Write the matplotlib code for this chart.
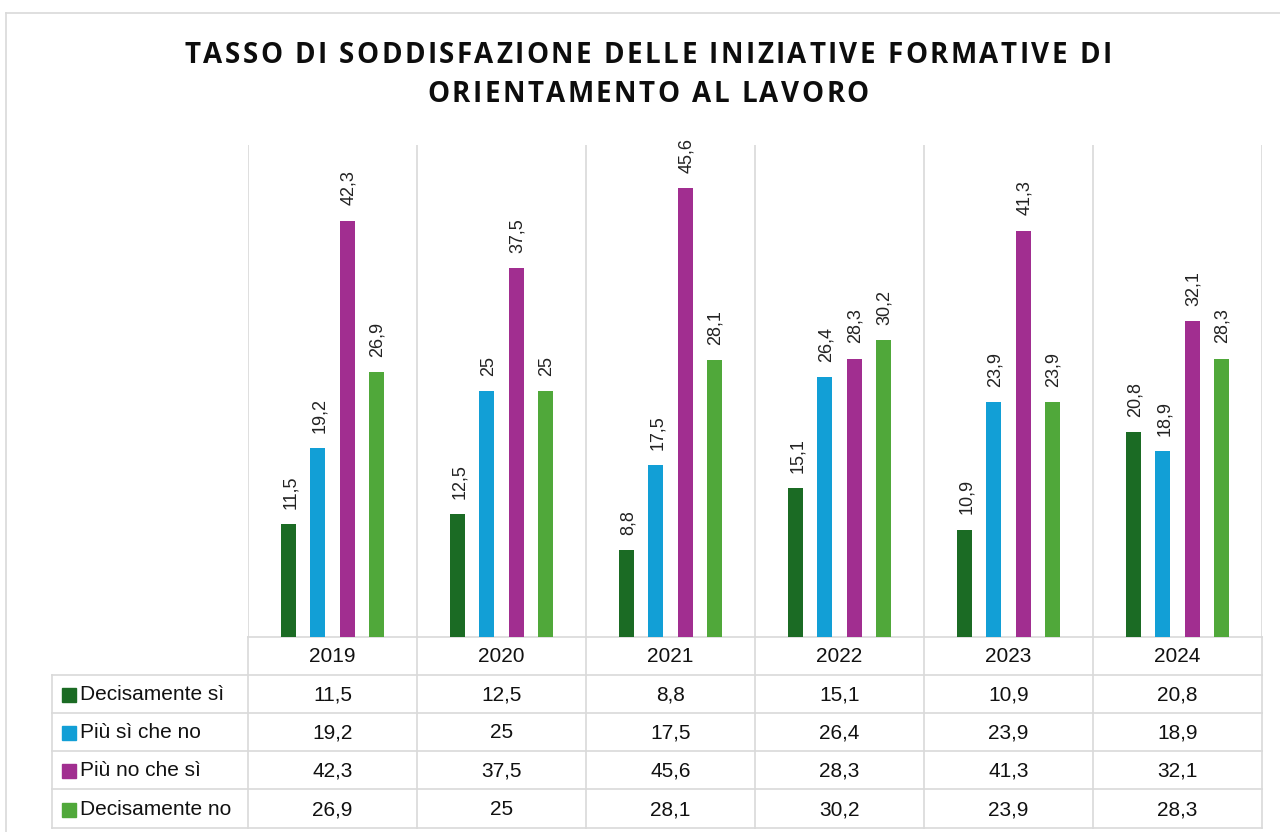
import numpy as np
import matplotlib.pyplot as plt
from matplotlib.patches import Rectangle

years = ['2019', '2020', '2021', '2022', '2023', '2024']
series = ['Decisamente sì', 'Più sì che no', 'Più no che sì', 'Decisamente no']
decisamente_si = [11.5, 12.5, 8.8, 15.1, 10.9, 20.8]
piu_si_che_no = [19.2, 25, 17.5, 26.4, 23.9, 18.9]
piu_no_che_si = [42.3, 37.5, 45.6, 28.3, 41.3, 32.1]
decisamente_no = [26.9, 25, 28.1, 30.2, 23.9, 28.3]
values = [decisamente_si, piu_si_che_no, piu_no_che_si, decisamente_no]
colors = ['#1b6b24', '#129fd6', '#a12e90', '#50a83a']
title_lines = ['TASSO DI SODDISFAZIONE DELLE INIZIATIVE FORMATIVE DI',
               'ORIENTAMENTO AL LAVORO']

plt.rcParams['font.family'] = ['Liberation Sans', 'DejaVu Sans']
W, H = 1280, 832
grid_c = '#d9d9d9'


def fmt(v):
    return f'{v:g}'.replace('.', ',')


def box(x0, y0, x1, y1):
    # pixel box (top-left origin) -> figure fraction rect
    return [x0 / W, 1 - y1 / H, (x1 - x0) / W, (y1 - y0) / H]


fig = plt.figure(figsize=(12.8, 8.32), dpi=100)

# overlay in pixel coordinates for frame and data table
ov = fig.add_axes([0, 0, 1, 1], zorder=0)
ov.set_xlim(0, W)
ov.set_ylim(H, 0)
ov.axis('off')

ax_l, ax_t, ax_r, ax_b = 248, 145, 1262, 637
ax = fig.add_axes(box(ax_l, ax_t, ax_r, ax_b), zorder=1)
ax.patch.set_alpha(0)

n = len(years)
x = np.arange(n)
step, bw = 0.172, 0.089
for k, (vals, c) in enumerate(zip(values, colors)):
    pos = x + (k - 1.5) * step
    ax.bar(pos, vals, width=bw, color=c, zorder=2)
    for p, v in zip(pos, vals):
        ax.annotate(fmt(v), (p, v), xytext=(1, 11), textcoords='offset points',
                    rotation=90, ha='center', va='bottom', fontsize=13, color='#222222')

ax.set_xlim(-0.5, n - 0.5)
ax.set_ylim(0, 50)
for s in ax.spines.values():
    s.set_visible(False)
ax.set_xticks([])
ax.set_yticks([])
for i in range(n + 1):
    ax.axvline(i - 0.5, color=grid_c, lw=1.2, zorder=1)

# chart frame
ov.plot([6, 6], [13, H], color=grid_c, lw=1.2)
ov.plot([6, W], [13, 13], color=grid_c, lw=1.2)

# data table
col_w = (ax_r - ax_l) / n
edges = [ax_l + i * col_w for i in range(n + 1)]
leg_l = 52
rows = [637, 675, 713, 751, 789, 828]
ov.plot([ax_l, ax_r], [rows[0], rows[0]], color=grid_c, lw=1.2)
for y in rows[1:]:
    ov.plot([leg_l, ax_r], [y, y], color=grid_c, lw=1.2)
for xe in edges:
    ov.plot([xe, xe], [rows[0], rows[-1]], color=grid_c, lw=1.2)
ov.plot([leg_l, leg_l], [rows[1], rows[-1]], color=grid_c, lw=1.2)

for i, yr in enumerate(years):
    ov.text((edges[i] + edges[i + 1]) / 2, (rows[0] + rows[1]) / 2 + 1, yr,
            ha='center', va='center', fontsize=15, color='#111111')
for r, (name, vals, c) in enumerate(zip(series, values, colors)):
    yc = (rows[r + 1] + rows[r + 2]) / 2 + 1
    ov.add_patch(Rectangle((62, yc - 7), 14, 14, color=c))
    ov.text(80, yc, name, ha='left', va='center', fontsize=15, color='#111111')
    for i, v in enumerate(vals):
        ov.text((edges[i] + edges[i + 1]) / 2, yc, fmt(v),
                ha='center', va='center', fontsize=15, color='#111111')

# title with letter spacing, drawn glyph by glyph
renderer = fig.canvas.get_renderer()
tkw = dict(fontsize=20, fontweight='bold', family=['Open Sans', 'DejaVu Sans'],
           color='#0d0d0d', va='baseline', ha='left')


def glyph_w(ch):
    if ch == ' ':
        a = ov.text(0, 0, 'II', **tkw)
        b = ov.text(0, 0, 'I I', **tkw)
        w = b.get_window_extent(renderer).width - a.get_window_extent(renderer).width
        a.remove()
        b.remove()
        return w
    t = ov.text(0, 0, ch, **tkw)
    w = t.get_window_extent(renderer).width
    t.remove()
    return w


widths = [[glyph_w(ch) for ch in line] for line in title_lines]
track = (927 - sum(widths[0])) / (len(title_lines[0]) - 1)
for line, ws, yb in zip(title_lines, widths, [63, 102]):
    total = sum(ws) + track * (len(line) - 1)
    xx = 648 - total / 2
    for ch, w in zip(line, ws):
        if ch != ' ':
            ov.text(xx, yb, ch, **tkw)
        xx += w + track

fig.savefig('out.png', dpi=100, facecolor='white')
